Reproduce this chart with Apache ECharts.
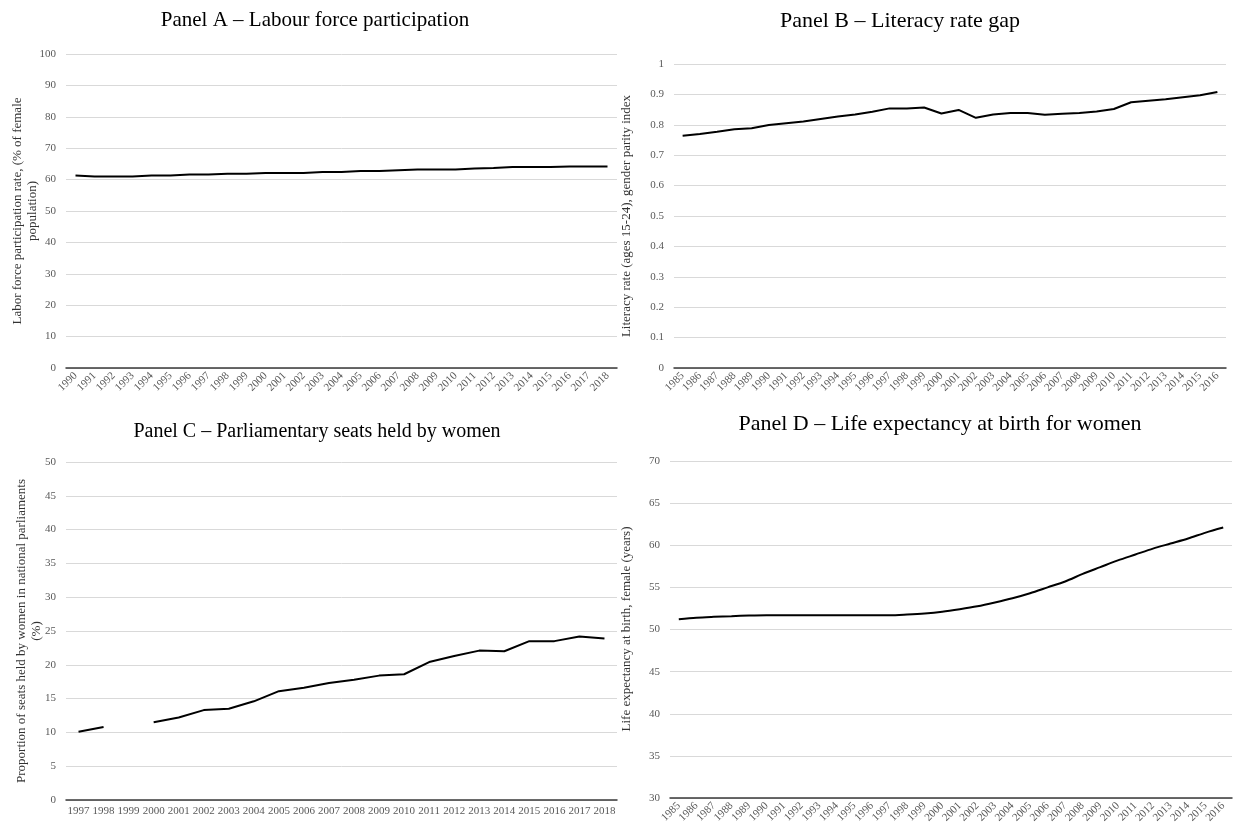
<!DOCTYPE html>
<html>
<head>
<meta charset="utf-8">
<script src="https://cdn.jsdelivr.net/npm/echarts@6/dist/echarts.min.js"></script>
<style>
  html, body { margin: 0; padding: 0; background: #ffffff; }
  #chart { width: 1234px; height: 827px; }
</style>
</head>
<body>
<div id="chart"></div>
<script>
// Panel A: female labour force participation rate (%)
const yearsA = ['1990','1991','1992','1993','1994','1995','1996','1997','1998','1999','2000','2001','2002','2003','2004','2005','2006','2007','2008','2009','2010','2011','2012','2013','2014','2015','2016','2017','2018'];
const laborRate = [61.3,61.0,61.0,61.0,61.3,61.3,61.6,61.6,61.9,61.9,62.1,62.1,62.1,62.4,62.4,62.7,62.7,63.0,63.2,63.2,63.2,63.5,63.7,64.0,64.0,64.0,64.2,64.2,64.2];

// Panel B: youth literacy gender parity index
const yearsB = ['1985','1986','1987','1988','1989','1990','1991','1992','1993','1994','1995','1996','1997','1998','1999','2000','2001','2002','2003','2004','2005','2006','2007','2008','2009','2010','2011','2012','2013','2014','2015','2016'];
const literacyGpi = [0.764,0.770,0.777,0.785,0.789,0.799,0.805,0.811,0.819,0.827,0.834,0.843,0.854,0.854,0.857,0.837,0.849,0.823,0.834,0.839,0.839,0.833,0.836,0.839,0.844,0.852,0.874,0.879,0.884,0.891,0.897,0.908];

// Panel C: share of parliamentary seats held by women (%), 1999 missing
const yearsC = ['1997','1998','1999','2000','2001','2002','2003','2004','2005','2006','2007','2008','2009','2010','2011','2012','2013','2014','2015','2016','2017','2018'];
const seatsShare = [10.1,10.8,null,11.5,12.2,13.3,13.5,14.6,16.1,16.6,17.3,17.8,18.4,18.6,20.4,21.3,22.1,22.0,23.5,23.5,24.2,23.9];

// Panel D: female life expectancy at birth (years)
const yearsD = yearsB;
const lifeExp = [51.23,51.4,51.5,51.58,51.66,51.7,51.7,51.7,51.7,51.7,51.7,51.7,51.7,51.78,51.9,52.1,52.4,52.75,53.2,53.7,54.3,55.0,55.7,56.6,57.4,58.2,58.9,59.6,60.2,60.8,61.5,62.1];

// Axis tick settings
const yTicksA = { min: 0, max: 100, interval: 10 };
const yTicksB = { min: 0, max: 1, interval: 0.1 };
const yTicksC = { min: 0, max: 50, interval: 5 };
const yTicksD = { min: 30, max: 70, interval: 5 };

const SERIF = '"Liberation Serif", "DejaVu Serif", serif';
const tickColor = '#595959';

function xAxisFor(idx, cats, rotate) {
  return {
    type: 'category', gridIndex: idx, data: cats, boundaryGap: true,
    axisLine: { show: true, lineStyle: { color: '#3a3a3a', width: 1.5 } },
    axisTick: { show: false },
    axisLabel: { interval: 0, rotate: rotate, color: tickColor, fontFamily: SERIF, fontSize: 11, margin: 6 },
    splitLine: { show: false }
  };
}
function yAxisFor(idx, ticks) {
  return {
    type: 'value', gridIndex: idx, min: ticks.min, max: ticks.max, interval: ticks.interval,
    axisLine: { show: false }, axisTick: { show: false },
    axisLabel: { color: tickColor, fontFamily: SERIF, fontSize: 11, margin: 10 },
    splitLine: { show: true, lineStyle: { color: '#d9d9d9', width: 1 } }
  };
}
function lineFor(idx, values, smooth) {
  return {
    type: 'line', xAxisIndex: idx, yAxisIndex: idx, data: values,
    showSymbol: false, smooth: smooth, connectNulls: false,
    lineStyle: { color: '#000000', width: 2 }, silent: true
  };
}
function titleFor(text, cx, top, size) {
  return {
    text: text, left: cx, top: top, textAlign: 'center',
    textStyle: { fontFamily: SERIF, fontSize: size, fontWeight: 'normal', color: '#000000' }
  };
}
function axisName(text, x, y) {
  return {
    type: 'text', x: x, y: y, rotation: Math.PI / 2,
    style: { text: text, fill: '#333333', font: '13px ' + SERIF, align: 'center', verticalAlign: 'middle', lineHeight: 15 }
  };
}

const chart = echarts.init(document.getElementById('chart'), null, { renderer: 'canvas' });
chart.setOption({
  animation: false,
  backgroundColor: '#ffffff',
  title: [
    titleFor('Panel A – Labour force participation', 310, 5, 21),
    titleFor('Panel B – Literacy rate gap', 895, 5, 22),
    titleFor('Panel C – Parliamentary seats held by women', 312, 417, 20),
    titleFor('Panel D – Life expectancy at birth for women', 935, 408, 22)
  ],
  grid: [
    { left: 66, top: 54, width: 551, height: 314 },
    { left: 674, top: 64, width: 552, height: 304 },
    { left: 66, top: 462, width: 551, height: 338 },
    { left: 670, top: 461, width: 562, height: 337 }
  ],
  xAxis: [
    xAxisFor(0, yearsA, 45),
    xAxisFor(1, yearsB, 45),
    xAxisFor(2, yearsC, 0),
    xAxisFor(3, yearsD, 45)
  ],
  yAxis: [
    yAxisFor(0, yTicksA),
    yAxisFor(1, yTicksB),
    yAxisFor(2, yTicksC),
    yAxisFor(3, yTicksD)
  ],
  series: [
    lineFor(0, laborRate, false),
    lineFor(1, literacyGpi, false),
    lineFor(2, seatsShare, false),
    lineFor(3, lifeExp, 0.3)
  ],
  graphic: [
    axisName('Labor force participation rate, (% of female\npopulation)', 25, 211),
    axisName('Literacy rate (ages 15-24), gender parity index', 627, 216),
    axisName('Proportion of seats held by women in national parliaments\n(%)', 29, 631),
    axisName('Life expectancy at birth, female (years)', 627, 629)
  ]
});
</script>
</body>
</html>
